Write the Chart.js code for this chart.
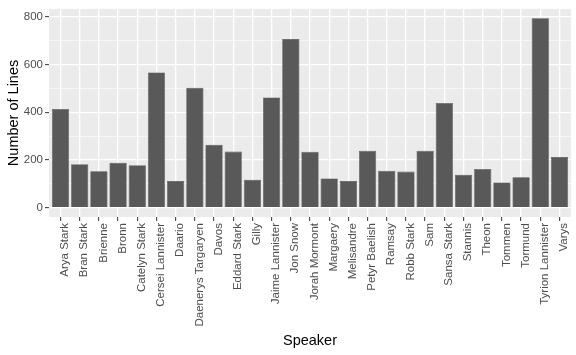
<!DOCTYPE html>
<html>
<head>
<meta charset="utf-8">
<script src="https://cdn.jsdelivr.net/npm/chart.js@4"></script>
<style>
html,body{margin:0;padding:0;background:#fff;}
#wrap{width:576px;height:355px;position:relative;}
</style>
</head>
<body>
<div id="wrap"><canvas id="c" width="576" height="355"></canvas></div>
<script>
const speakers = ["Arya Stark","Bran Stark","Brienne","Bronn","Catelyn Stark","Cersei Lannister","Daario","Daenerys Targaryen","Davos","Eddard Stark","Gilly","Jaime Lannister","Jon Snow","Jorah Mormont","Margaery","Melisandre","Petyr Baelish","Ramsay","Robb Stark","Sam","Sansa Stark","Stannis","Theon","Tommen","Tormund","Tyrion Lannister","Varys"];
const lines = [414,182,152,188,178,567,111,503,264,235,117,462,707,234,122,111,238,154,151,238,439,138,162,105,127,794,212];
const yTicks = [0,100,200,300,400,500,600,700,800];
const yMajor = [0,200,400,600,800];

const panelBg = {
  id:'panelBg',
  beforeDraw(chart){
    const {ctx, chartArea:a} = chart;
    ctx.save();
    ctx.fillStyle = '#EBEBEB';
    ctx.fillRect(a.left, a.top, a.right-a.left, a.bottom-a.top);
    ctx.restore();
  }
};

new Chart(document.getElementById('c'), {
  type:'bar',
  data:{
    labels: speakers,
    datasets:[{
      data: lines,
      backgroundColor:'#595959',
      borderColor:'#505050',
      borderWidth:0.6,
      categoryPercentage:0.9,
      barPercentage:1.0
    }]
  },
  plugins:[panelBg],
  options:{
    responsive:false,
    animation:false,
    devicePixelRatio:1,
    layout:{padding:{top:6,right:5,left:0,bottom:0}},
    plugins:{legend:{display:false},tooltip:{enabled:false}},
    scales:{
      x:{
        type:'category',
        offset:false,
        afterBuildTicks(s){ s._startValue = -0.6; s._valueRange = speakers.length - 1 + 1.2; },
        afterFit(s){ s.height = 138; },
        border:{display:false},
        grid:{color:'#FFFFFF', lineWidth:1.3, offset:false, tickLength:4, tickColor:'#333333', tickWidth:1},
        ticks:{autoSkip:false, maxRotation:90, minRotation:90, padding:2, labelOffset:4.5, color:'#4D4D4D', font:{family:'"Liberation Sans", Arial, sans-serif', size:11.5}},
        title:{display:true, text:'Speaker', color:'#000000', padding:{top:0,bottom:5}, font:{family:'"Liberation Sans", Arial, sans-serif', size:14.5}}
      },
      y:{
        type:'linear',
        min:-39.7,
        max:833.7,
        afterBuildTicks(s){ s.ticks = yTicks.map(v=>({value:v})); },
        afterFit(s){ s.width = 49; },
        border:{display:false},
        grid:{
          color:'#FFFFFF',
          lineWidth:c=> yMajor.includes(c.tick && c.tick.value) ? 1.3 : 0.6,
          tickLength:4,
          tickColor:c=> yMajor.includes(c.tick && c.tick.value) ? '#333333' : 'rgba(0,0,0,0)',
          tickWidth:1
        },
        ticks:{padding:2, color:'#4D4D4D', font:{family:'"Liberation Sans", Arial, sans-serif', size:11.5},
          callback:v=> yMajor.includes(v) ? String(v) : ''},
        title:{display:true, text:'Number of Lines', color:'#000000', padding:{top:5,bottom:0}, font:{family:'"Liberation Sans", Arial, sans-serif', size:14.5}}
      }
    }
  }
});
</script>
</body>
</html>
